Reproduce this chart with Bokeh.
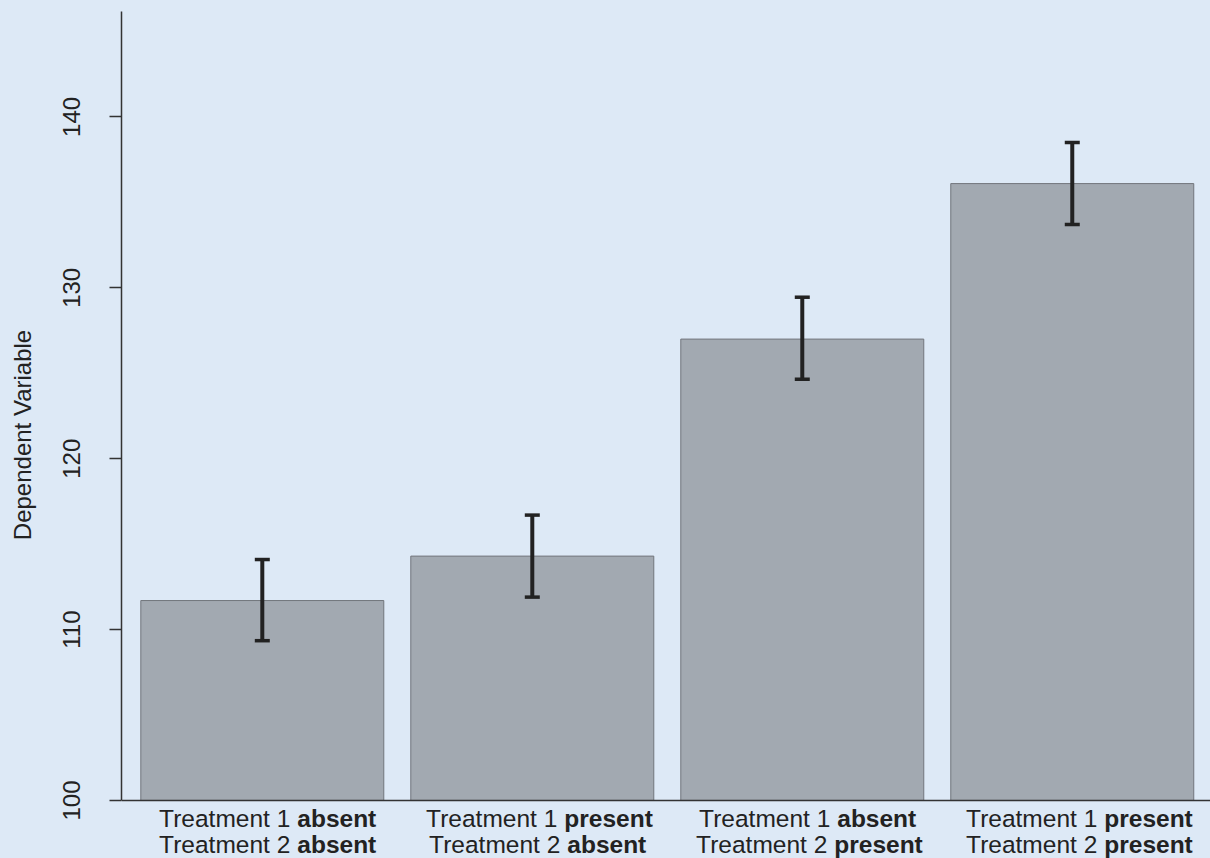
from bokeh.plotting import figure
from bokeh.models import Range1d, FixedTicker, Span, ColumnDataSource
from bokeh.core.properties import value
from bokeh.embed import file_html
from bokeh.resources import INLINE

# ---- data ----
treatment1 = ["absent", "present", "absent", "present"]
treatment2 = ["absent", "absent", "present", "present"]
means = [111.7, 114.3, 127.0, 136.1]
upper = [114.1, 116.7, 129.45, 138.5]
lower = [109.35, 111.9, 124.65, 133.7]
y_ticks = [100, 110, 120, 130, 140]
y_label = "Dependent Variable"

BG = "#dde9f6"
BAR = "#a2a9b1"
BAR_LINE = "#72767c"
INK = "#222222"
AXIS = "#333333"
FONT = "Liberation Sans"

xs = [i + 1 for i in range(len(means))]
px_per_x = 270.0
px_per_y = 17.08
y_base = 100
y_top = 146.17
y_bottom = y_base - (858 - 800) / px_per_y

p = figure(width=1210, height=858,
           x_range=Range1d(0.4785, 4.512), y_range=Range1d(y_bottom, y_top),
           output_backend="svg", toolbar_location=None, x_axis_location=None,
           min_border_left=121, min_border_right=0, min_border_top=11, min_border_bottom=0,
           background_fill_color=BG, border_fill_color=BG, outline_line_color=None)
p.styles = {"background-color": BG}
p.grid.visible = False

# y axis
p.yaxis.bounds = (y_base, y_top)
p.yaxis.ticker = FixedTicker(ticks=y_ticks)
p.yaxis.major_tick_out = 12
p.yaxis.major_tick_in = 0
p.yaxis.minor_tick_line_color = None
p.yaxis.axis_line_color = AXIS
p.yaxis.axis_line_width = 1.5
p.yaxis.major_tick_line_color = AXIS
p.yaxis.major_tick_line_width = 1.5
p.yaxis.major_label_orientation = "vertical"
p.yaxis.major_label_text_font = FONT
p.yaxis.major_label_text_font_size = "24px"
p.yaxis.major_label_text_color = INK
p.yaxis.major_label_standoff = 29
p.yaxis.axis_label = y_label
p.yaxis.axis_label_text_font = FONT
p.yaxis.axis_label_text_font_size = "24px"
p.yaxis.axis_label_text_font_style = "normal"
p.yaxis.axis_label_text_color = INK
p.yaxis.axis_label_standoff = 25

src = ColumnDataSource(dict(x=xs, top=means, upper=upper, lower=lower))
p.vbar(x="x", top="top", bottom=y_base, width=0.9, source=src,
       fill_color=BAR, line_color=BAR_LINE, line_width=1)

cap = 7.5 / px_per_x
p.segment(x0="x", y0="lower", x1="x", y1="upper", source=src, line_color=INK, line_width=4)
p.segment(x0=[x - cap for x in xs], y0=upper, x1=[x + cap for x in xs], y1=upper,
          line_color=INK, line_width=3.5)
p.segment(x0=[x - cap for x in xs], y0=lower, x1=[x + cap for x in xs], y1=lower,
          line_color=INK, line_width=3.5)

# x axis line
p.add_layout(Span(location=y_base, dimension="width", line_color=AXIS, line_width=1.5))

# category labels with mixed weight
split_off = {"absent": 35, "present": 32}
space_px = 7
line_y = [y_base - 18 / px_per_y, y_base - 44.5 / px_per_y]
nx, ny, nt, bx, by, bt = [], [], [], [], [], []
for x, t1, t2 in zip(xs, treatment1, treatment2):
    for k, (num, word) in enumerate([("1", t1), ("2", t2)]):
        sx = x + split_off[word] / px_per_x
        nx.append(sx - space_px / px_per_x); ny.append(line_y[k]); nt.append("Treatment " + num)
        bx.append(sx); by.append(line_y[k]); bt.append(word)

p.text(x=nx, y=ny, text=nt, text_align="right", text_baseline="alphabetic",
       text_font=value(FONT), text_font_size="24.5px", text_color=INK)
p.text(x=bx, y=by, text=bt, text_align="left", text_baseline="alphabetic",
       text_font=value(FONT), text_font_size="24.5px", text_font_style="bold", text_color=INK)

open("out.html", "w").write(file_html(p, INLINE))
